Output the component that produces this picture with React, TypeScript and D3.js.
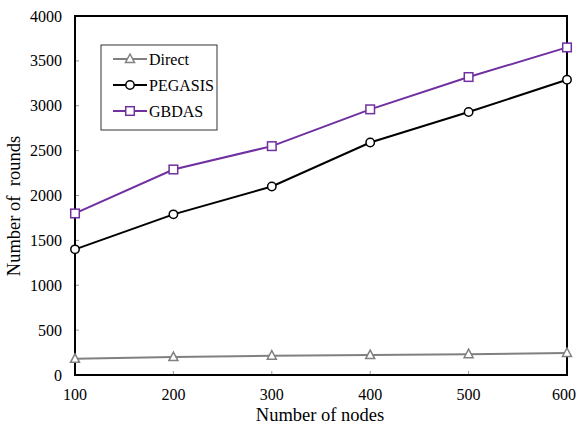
import React from 'react';
import * as d3 from 'd3';

const nodes = [100, 200, 300, 400, 500, 600];
const direct = [180, 200, 215, 222, 232, 245];
const pegasis = [1400, 1790, 2100, 2590, 2930, 3290];
const gbdas = [1800, 2290, 2550, 2960, 3320, 3650];
const yTicks = [0, 500, 1000, 1500, 2000, 2500, 3000, 3500, 4000];

const W = 577, H = 428;
const m = { left: 75, right: 10, top: 16, bottom: 53 };

const series = [
  { name: 'Direct', values: direct, color: '#808080', marker: 'tri' },
  { name: 'PEGASIS', values: pegasis, color: '#000000', marker: 'circle' },
  { name: 'GBDAS', values: gbdas, color: '#7030a0', marker: 'square' },
];

const Marker = ({ type, x, y, color }: { type: string; x: number; y: number; color: string }) => {
  if (type === 'circle') return <circle cx={x} cy={y} r={4.2} fill="white" stroke={color} strokeWidth={1.5} />;
  if (type === 'square') return <rect x={x - 4.3} y={y - 4.3} width={8.6} height={8.6} fill="white" stroke={color} strokeWidth={1.5} />;
  return <path d={`M${x},${y - 5}L${x + 4.5},${y + 3.5}L${x - 4.5},${y + 3.5}Z`} fill="white" stroke={color} strokeWidth={1.5} />;
};

export default function App() {
  const x = d3.scaleLinear().domain([100, 600]).range([m.left, W - m.right]);
  const y = d3.scaleLinear().domain([0, 4000]).range([H - m.bottom, m.top]);
  const line = d3.line<number>().x((_, i) => x(nodes[i])).y(d => y(d));
  const font = '"Liberation Serif", "Times New Roman", serif';

  return (
    <svg width={W} height={H} style={{ position: 'absolute', left: 0, top: 0, fontFamily: font }}>
      <rect width={W} height={H} fill="white" />
      {yTicks.map(t => (
        <g key={t}>
          <line x1={x(100)} x2={x(100) + 4} y1={y(t)} y2={y(t)} stroke="#999" />
          <text x={62} y={y(t)} dy="0.35em" textAnchor="end" fontSize={16}>{t}</text>
        </g>
      ))}
      {nodes.map((n, i) => (
        <g key={n}>
          <line x1={x(n)} x2={x(n)} y1={y(0)} y2={y(0) - 4} stroke="#999" />
          <text x={i === nodes.length - 1 ? W - 1 : x(n)} y={400} textAnchor={i === nodes.length - 1 ? 'end' : 'middle'} fontSize={16}>{n}</text>
        </g>
      ))}
      <rect x={m.left} y={m.top} width={W - m.left - m.right} height={H - m.top - m.bottom} fill="none" stroke="#000" strokeWidth={2} />
      {series.map(s => (
        <g key={s.name}>
          <path d={line(s.values) || ''} fill="none" stroke={s.color} strokeWidth={2} />
          {s.values.map((v, i) => <Marker key={i} type={s.marker} x={x(nodes[i])} y={y(v)} color={s.color} />)}
        </g>
      ))}
      <rect x={101} y={45} width={116} height={85} fill="white" stroke="#333" strokeWidth={1} />
      {series.map((s, i) => {
        const ly = 59 + i * 26;
        return (
          <g key={s.name}>
            <line x1={113} x2={147} y1={ly} y2={ly} stroke={s.color} strokeWidth={2} />
            <Marker type={s.marker} x={130} y={ly} color={s.color} />
            <text x={149} y={ly} dy="0.35em" fontSize={16}>{s.name}</text>
          </g>
        );
      })}
      <text x={320} y={421} textAnchor="middle" fontSize={18.5}>Number of nodes</text>
      <text transform={`translate(20,206) rotate(-90)`} textAnchor="middle" fontSize={18.5} style={{ whiteSpace: 'pre' }}>Number of  rounds</text>
    </svg>
  );
}
